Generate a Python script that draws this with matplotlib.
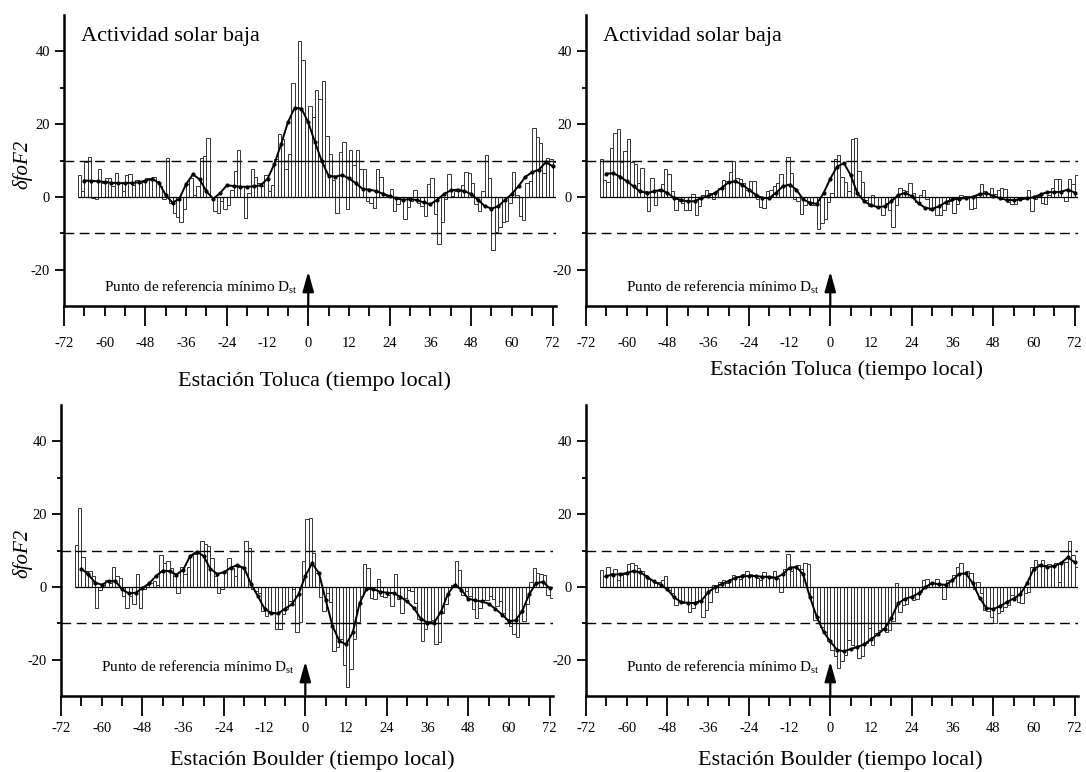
import numpy as np
import matplotlib
matplotlib.use("Agg")
import matplotlib.pyplot as plt
from matplotlib.ticker import FuncFormatter

plt.rcParams['font.family'] = 'Liberation Serif'
plt.rcParams['mathtext.fontset'] = 'custom'
plt.rcParams['mathtext.rm'] = 'Liberation Serif'
plt.rcParams['mathtext.it'] = 'Liberation Serif:italic'

# hourly deviations, hours -68 .. 72 relative to the Dst minimum
hours = np.arange(-68, 73)
# smoothed curve, every 2 hours from -66 .. 72
smooth_hours = np.arange(-66, 73, 2)

toluca_left = [
    5.9, 1.5, 9.6, 10.9, -0.3, -0.5, 7.6, 3.8,
    5.3, 5.1, 2.9, 6.5, 3.8, 1.5, 6.0, 6.2, 3.3, 4.7, 3.8, 4.2,
    5.1, 4.7, 5.6, 4.5, 2.9, -0.7, 10.7, -1.6, -4.3, -5.4, -6.8, -3.2,
    3.6, 5.1, 0.6, 2.9, 10.8, 11.2, 16.1, 0.0, -3.9, -4.3, -1.0, -3.2,
    -2.1, 2.0, 7.1, 12.8, 2.9, -5.7, 1.1, 7.8, 5.6, 3.8, 2.9, 6.0,
    1.5, 3.3, 10.5, 17.3, 16.0, 7.8, 11.9, 31.3, 24.5, 43.0, 37.7, 21.0,
    25.0, 22.0, 29.5, 26.8, 32.0, 16.8, 11.9, 4.7, -4.3, 12.3, 15.0, -3.2,
    12.8, 8.9, 12.8, 7.6, 7.6, -1.2, -1.6, -3.0, 7.6, 5.6, 0.6, 0.3,
    2.2, -3.9, -2.0, -0.7, -6.1, -2.8, -1.2, 1.8, -1.6, -2.5, -5.2, 3.6,
    5.1, -4.8, -12.9, -7.0, -0.7, 6.2, 0.2, 1.5, 1.5, 3.3, 6.8, 6.5,
    3.8, -2.0, -3.9, 1.5, 11.4, 5.1, -14.7, -9.7, -8.4, -6.8, -6.6, -1.6,
    6.8, 0.6, -5.2, -6.4, 3.8, 4.5, 18.9, 16.4, 14.8, 6.5, 10.8, 10.5, 9.6,
]
toluca_left_smooth = [
    4.5, 4.4, 4.3, 4.1, 3.9, 3.8, 3.8, 3.9, 4.0, 4.5,
    5.0, 3.8, 0.5, -1.6, -0.5, 3.5, 6.2, 4.8, 1.5, -0.5,
    1.0, 3.2, 3.0, 2.8, 2.8, 2.9, 3.2, 5.0, 9.0, 14.5,
    20.5, 24.5, 24.3, 20.5, 15.0, 9.8, 5.8, 5.6, 6.0, 5.1,
    3.8, 2.2, 2.0, 1.6, 0.9, 0.2, -0.4, -0.8, -0.6, -0.9,
    -1.5, -2.0, -0.8, 0.8, 1.8, 2.0, 1.6, 0.8, -0.8, -2.5,
    -3.2, -2.6, -0.8, 0.8, 3.0, 5.5, 6.8, 7.5, 9.5, 8.5,
]

toluca_right = [
    10.4, 4.7, 4.0, 13.4, 17.5, 18.8, 9.7, 12.6,
    15.9, 9.7, 9.1, 3.8, 7.9, 1.5, -3.9, 5.2, -2.1, 1.5, 3.6, 7.6,
    6.4, 1.5, -3.7, -1.2, -1.6, -3.5, -3.5, 0.9, -5.0, -2.5, 0.6, 2.0,
    1.1, -0.7, 1.3, 2.5, 4.7, 4.5, 6.8, 10.0, 5.2, 4.9, 3.8, 2.0,
    4.5, 4.3, -0.7, -2.7, -3.0, 1.5, 2.0, 3.1, 3.8, 6.3, 3.4, 10.9,
    6.5, -0.7, -1.2, -4.8, -2.1, -1.6, -2.1, -2.1, -8.9, -7.1, -6.2, -1.5,
    1.1, 10.5, 11.4, 5.6, 4.0, 1.5, 15.8, 16.3, 7.2, 4.0, -0.9, -2.5,
    0.4, -2.4, -2.5, -5.1, -1.6, -3.5, -8.2, -2.1, 2.5, 2.0, 1.5, 3.8,
    1.0, -1.5, 0.6, 1.8, -0.5, -3.5, -3.0, -5.0, -5.0, -3.5, -2.0, -1.0,
    -4.5, -2.0, 0.5, 0.2, 0.2, -3.2, -3.0, 0.5, 3.6, 1.5, 1.0, 2.5,
    0.8, 2.0, 2.5, 2.2, -1.5, -2.0, -2.0, -0.3, -0.2, -0.3, 2.0, -3.8,
    -0.5, 0.3, -1.8, -2.0, 0.5, 2.5, 4.8, 5.0, 0.0, -1.0, 5.0, 3.5, 6.0,
]
toluca_right_smooth = [
    6.4, 6.5, 5.6, 4.3, 2.9, 1.5, 1.1, 1.5, 2.0, 1.1,
    -0.3, -0.9, -1.2, -1.2, -0.3, 0.2, 1.1, 2.5, 4.0, 4.3,
    3.4, 2.0, 0.6, -0.3, -0.3, 1.1, 2.9, 3.4, 2.0, -0.7,
    -1.6, -1.9, 1.0, 5.0, 8.3, 9.3, 6.0, 1.0, -1.2, -2.3,
    -2.8, -2.6, -1.2, 0.5, 1.1, 0.2, -1.8, -3.0, -3.3, -2.6,
    -1.5, -0.7, -0.5, -0.3, 0.0, 0.8, 1.0, 0.3, -0.4, -0.8,
    -0.9, -0.7, -0.4, -0.1, 0.7, 1.3, 1.3, 1.4, 2.0, 1.2,
]

boulder_left = [
    11.4, 21.8, 8.2, 4.5, 4.3, 2.9, -5.7, -0.9,
    0.6, 2.0, 1.1, 5.6, 3.1, 2.5, -2.5, -5.7, -2.5, -4.8, 3.5, -5.7,
    -0.7, 0.6, 1.1, 1.5, 0.6, 8.8, 6.5, 7.0, 5.2, 2.9, -1.6, 5.6,
    3.5, 5.5, 8.8, 9.1, 9.9, 12.7, 11.8, 11.3, 7.9, 3.1, -1.6, -0.7,
    4.0, 7.9, 5.2, 2.9, 5.6, 5.2, 12.5, 10.8, -0.7, -1.2, -1.6, -6.6,
    -8.0, -7.3, -6.9, -11.6, -11.6, -7.5, -6.2, -3.9, -0.7, -12.5, -9.6, 7.0,
    18.6, 19.0, 9.3, 3.8, -2.7, -6.6, -1.6, -4.2, -17.5, -16.6, -14.4, -21.6,
    -27.5, -22.7, -14.4, -9.6, -2.5, 6.4, 5.2, -3.0, -3.2, 2.3, -2.5, -2.8,
    -2.1, -5.3, 3.5, -3.3, -7.1, -3.0, -0.9, -1.2, -4.5, -8.9, -15.0, -11.6,
    -9.4, -9.1, -15.7, -15.1, -7.1, -4.6, 0.0, 0.6, 7.0, 4.7, -2.1, -1.2,
    -2.5, -6.0, -8.5, -5.7, -3.5, -3.5, -2.5, -3.3, -5.3, -3.9, -7.1, -8.9,
    -10.7, -13.0, -13.9, -7.1, -9.4, -4.8, 1.3, 5.2, 3.8, 3.6, 3.4, -2.1, -3.0,
]
boulder_left_smooth = [
    5.0, 3.5, 1.2, 0.6, 1.6, 1.6, -0.7, -1.8, -1.6, -0.3,
    1.0, 3.0, 4.5, 4.3, 3.4, 4.7, 8.4, 9.7, 8.5, 5.0,
    3.6, 4.0, 5.3, 6.0, 5.2, 0.8, -2.5, -6.0, -7.2, -7.3,
    -6.0, -4.8, -2.0, 3.0, 6.5, 3.8, -3.5, -10.7, -14.8, -15.8,
    -12.5, -4.5, -0.6, -0.6, -1.3, -1.6, -1.7, -2.7, -4.0, -5.8,
    -8.7, -9.8, -9.8, -6.8, -2.0, 0.6, -0.8, -3.2, -3.7, -4.0,
    -4.6, -6.0, -7.6, -9.4, -9.2, -6.5, -2.0, 1.0, 1.4, -0.3,
]

boulder_right = [
    4.7, 3.0, 5.5, 3.8, 5.0, 1.8, 3.2, 3.6,
    6.4, 6.5, 5.9, 5.3, 4.5, 3.2, 2.3, 1.8, 1.1, 1.4, 1.8, 3.0,
    -0.9, -1.8, -5.0, -4.1, -4.5, -4.1, -7.0, -5.9, -4.5, -3.8, -8.4, -6.4,
    -4.1, 0.5, -1.4, 1.4, 1.8, 1.1, 2.3, 3.2, 3.0, 2.3, 3.6, 4.5,
    3.6, 3.0, 2.5, 1.8, 4.1, 2.7, 2.5, 4.3, 2.5, -1.4, 5.0, 9.1,
    4.5, 5.5, 5.9, 5.0, 6.5, 6.4, -2.7, -9.1, -8.2, -10.9, -12.5, -14.8,
    -17.3, -19.0, -22.3, -20.5, -18.6, -14.5, -15.9, -16.4, -19.5, -19.1, -15.5, -11.4,
    -15.9, -12.7, -11.8, -11.4, -12.3, -11.8, -9.3, 1.1, -6.8, -5.0, -4.7, -2.7,
    -3.6, -3.4, -1.4, 1.8, 2.3, 1.1, 1.2, 2.1, 0.9, -3.2, 1.8, 2.0,
    3.2, 5.5, 6.5, 3.6, 4.5, 3.8, -0.5, 1.4, -1.8, -6.4, -6.6, -8.2,
    -9.8, -7.3, -6.5, -5.5, -5.0, -2.3, -2.7, -4.1, -4.5, -1.8, -1.5, 5.6,
    7.5, 6.4, 7.3, 5.9, 6.4, 5.9, 6.5, 1.4, 6.8, 6.8, 12.5, 8.9, 5.5,
]
boulder_right_smooth = [
    3.0, 3.4, 3.5, 3.8, 4.4, 4.0, 2.8, 1.5, 0.6, -0.7,
    -2.9, -4.1, -4.4, -4.4, -3.8, -1.5, -0.1, 0.8, 1.6, 2.5,
    2.9, 3.0, 3.0, 2.8, 2.8, 2.5, 3.5, 5.3, 5.5, 3.5,
    -2.8, -8.2, -12.3, -15.0, -17.3, -17.7, -17.1, -16.5, -15.8, -14.4,
    -13.0, -11.5, -8.5, -4.5, -3.3, -2.7, -1.8, -0.1, 1.1, 0.7,
    0.6, 1.8, 3.6, 3.7, 1.0, -3.0, -5.8, -6.1, -5.3, -4.2,
    -3.2, -2.0, 1.0, 5.0, 5.9, 5.5, 5.7, 6.6, 8.1, 6.8,
]

x_major = np.arange(-72, 73, 24)
x_minor = np.arange(-72, 73, 6)
threshold = 10


def threshold_runs(values, level, max_gap=3):
    """Hour spans where bars cross the +/- threshold (small gaps bridged)."""
    v = np.asarray(values)
    hit = v > level if level > 0 else v < level
    idx = np.flatnonzero(hit)
    runs = []
    if idx.size == 0:
        return runs
    start = prev = idx[0]
    for i in idx[1:]:
        if i - prev > max_gap:
            runs.append((start, prev))
            start = i
        prev = i
    runs.append((start, prev))
    return [(hours[a], hours[b] + 1) for a, b in runs]


def draw_panel(ax, bars, smooth, station, xlabel_pos, title=False,
               label_pad=9.0, note_y=-26.0):
    ax.bar(hours, bars, width=1.0, align='edge', facecolor='white',
           edgecolor='#333333', linewidth=0.7, zorder=2)
    ax.hlines(0, hours[0], hours[-1] + 1, color='k', lw=0.9, zorder=3)

    for level in (threshold, -threshold):
        ax.axhline(level, color='k', lw=1.0, dashes=(7, 4), zorder=1)
        for a, b in threshold_runs(bars, level):
            ax.hlines(level, a, b, color='k', lw=1.0, zorder=3)

    ax.plot(smooth_hours, smooth, color='k', lw=1.4, marker='o',
            markersize=2.0, zorder=4)

    ax.annotate('', xy=(0, -20.5), xytext=(0, -30),
                arrowprops=dict(arrowstyle='-|>,head_length=1.0,head_width=0.28',
                                color='k', lw=1.6, mutation_scale=12,
                                shrinkA=0, shrinkB=0), zorder=5)
    ax.text(-3, note_y, r'Punto de referencia mínimo D$_{\mathrm{st}}$',
            ha='right', va='baseline', fontsize=11)

    if title:
        ax.text(-67, 42.8, 'Actividad solar baja', ha='left', va='baseline',
                fontsize=16)

    ax.set_xlim(-72, 73)
    ax.set_ylim(-30, 50)

    for side in ('top', 'right'):
        ax.spines[side].set_visible(False)
    for side in ('left', 'bottom'):
        ax.spines[side].set_linewidth(1.8)

    ax.set_xticks(x_major)
    ax.set_xticklabels([f"{v}" for v in x_major])
    ax.set_xticks(x_minor, minor=True)
    ax.xaxis.set_minor_formatter(FuncFormatter(
        lambda v, p: f"{int(round(v))}" if int(round(v)) % 24 == 12 else ""))
    ax.tick_params(axis='x', which='major', length=14.4, width=1.3,
                   pad=label_pad, labelsize=10.5)
    ax.tick_params(axis='x', which='minor', length=7.0, width=1.3,
                   pad=label_pad + 7.4, labelsize=10.5)

    ax.set_yticks([-20, 0, 20, 40])
    ax.set_yticklabels(['-20', '0', '20', '40'])
    ax.set_yticks([-10, 10, 30], minor=True)
    ax.tick_params(axis='y', which='major', length=6.5, width=1.3, pad=3.5,
                   labelsize=10.5)
    ax.tick_params(axis='y', which='minor', length=3.0, width=1.3)

    ax.text(xlabel_pos[0], xlabel_pos[1], f'Estación {station} (tiempo local)',
            transform=ax.transAxes, ha='center', va='center', fontsize=16)


def main():
    fig = plt.figure(figsize=(10.86, 7.72), dpi=100)

    w, h = 0.4530, 0.3769
    ax_tl = fig.add_axes([0.0589, 0.6036, w, h])
    ax_tr = fig.add_axes([0.5396, 0.6036, w, h])
    ax_bl = fig.add_axes([0.0562, 0.0984, w, h])
    ax_br = fig.add_axes([0.5396, 0.0984, w, h])

    draw_panel(ax_tl, toluca_left, toluca_left_smooth, 'Toluca', (0.51, -0.258),
               title=True, label_pad=8.0, note_y=-26.0)
    draw_panel(ax_tr, toluca_right, toluca_right_smooth, 'Toluca', (0.53, -0.22),
               title=True, label_pad=8.0, note_y=-26.0)
    draw_panel(ax_bl, boulder_left, boulder_left_smooth, 'Boulder', (0.51, -0.222),
               label_pad=4.0, note_y=-23.3)
    draw_panel(ax_br, boulder_right, boulder_right_smooth, 'Boulder', (0.516, -0.222),
               label_pad=4.0, note_y=-23.3)

    for y in ((772 - 164) / 772, (772 - 553) / 772):
        fig.text(22 / 1086, y, 'δfoF2', rotation=90, ha='center', va='center',
                 fontsize=15, style='italic')

    fig.savefig('out.png', dpi=100)
    plt.close(fig)


if __name__ == "__main__":
    main()
